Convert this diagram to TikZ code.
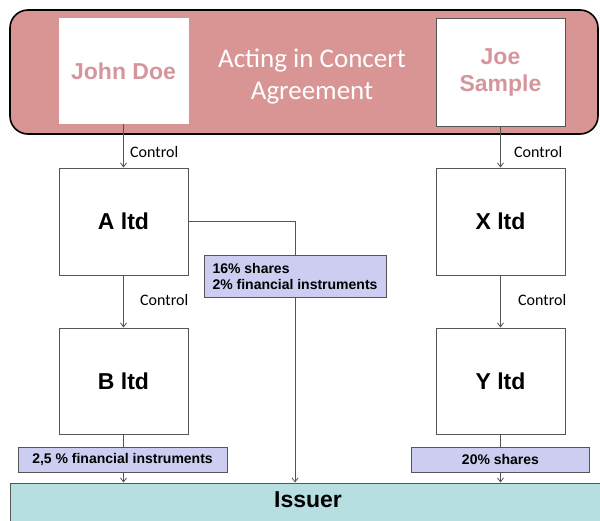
\documentclass[tikz,border=0pt]{standalone}
\usepackage{fontspec}
\setmainfont{Liberation Sans}
\newfontfamily\calibri{Carlito}
\usetikzlibrary{arrows.meta}
\pgfdeclarelayer{fore}
\pgfsetlayers{main,fore}
\definecolor{pinkfill}{RGB}{217,149,148}
\definecolor{pinktext}{RGB}{212,150,156}
\definecolor{lav}{RGB}{204,205,240}
\definecolor{issfill}{RGB}{183,223,226}
\definecolor{edge}{RGB}{85,85,85}
\begin{document}
\begin{tikzpicture}[x=1pt,y=-1pt,
  box/.style={draw=edge, line width=0.9pt, fill=white, inner sep=0pt,
    minimum width=129pt, font=\fontsize{23}{27}\selectfont\bfseries},
  lab/.style={draw=edge, line width=0.9pt, fill=lav, inner sep=0pt,
    font=\fontsize{14}{16}\selectfont\bfseries},
  ctl/.style={font=\calibri\fontsize{16}{18}\selectfont, anchor=west, inner sep=0pt},
  conn/.style={draw=edge, line width=0.8pt, -{Straight Barb[length=4pt,width=6pt]}}]
\useasboundingbox (0,0) rectangle (600,520);
\clip (0,0) rectangle (600,520);
% acting in concert agreement
\node[draw=black, line width=1.6pt, fill=pinkfill, rounded corners=18pt,
  minimum width=588pt, minimum height=124pt, inner sep=0pt] (acia) at (304,72) {};
\node[fill=white, inner sep=0pt, minimum width=130pt, minimum height=106pt,
  text=pinktext, font=\fontsize{23}{27}\selectfont\bfseries] (jd) at (123.5,71) {John Doe};
\node[box, minimum height=108pt, text=pinktext, align=center] (js) at (500.5,72) {Joe\\Sample};
\node[text=white, align=center, inner sep=0pt,
  font=\calibri\fontsize{27}{32}\selectfont] (acting) at (312,76) {Acting in Concert\\Agreement};
% companies
\node[box, minimum height=107pt] (A) at (123.5,221.5) {A ltd};
\node[box, minimum height=107pt] (X) at (500.5,221.5) {X ltd};
\node[box, minimum height=106pt] (B) at (123.5,381) {B ltd};
\node[box, minimum height=106pt] (Y) at (500.5,381) {Y ltd};
\node[draw=edge, line width=0.9pt, fill=issfill, inner sep=0pt, minimum width=596pt,
  minimum height=40pt, text depth=6pt, font=\fontsize{23}{27}\selectfont\bfseries] (iss) at (308,503) {Issuer};
% holding labels
\begin{pgfonlayer}{fore}
\node[lab, minimum width=182pt, minimum height=42pt, align=left] (lab1) at (295,276)
  {16\% shares\\2\% financial instruments};
\node[lab, minimum width=209pt, minimum height=25pt] (lab2) at (122.5,459.5) {2,5 \% financial instruments};
\node[lab, minimum width=178pt, minimum height=25pt] (lab3) at (500.5,459.5) {20\% shares};
\end{pgfonlayer}
% connectors
\draw[conn] (jd) -- (A);
\draw[conn] (js) -- (X);
\draw[conn] (A) -- (B);
\draw[conn] (X) -- (Y);
\draw[conn] (B) -- (B |- iss.north);
\draw[conn] (Y) -- (Y |- iss.north);
\draw[conn] (A.east) -| (lab1 |- iss.north);
% control labels
\node[ctl] (c1) at (130,152) {Control};
\node[ctl] (c2) at (514,152) {Control};
\node[ctl] (c3) at (140,300) {Control};
\node[ctl] (c4) at (518,300) {Control};
\end{tikzpicture}
\end{document}
